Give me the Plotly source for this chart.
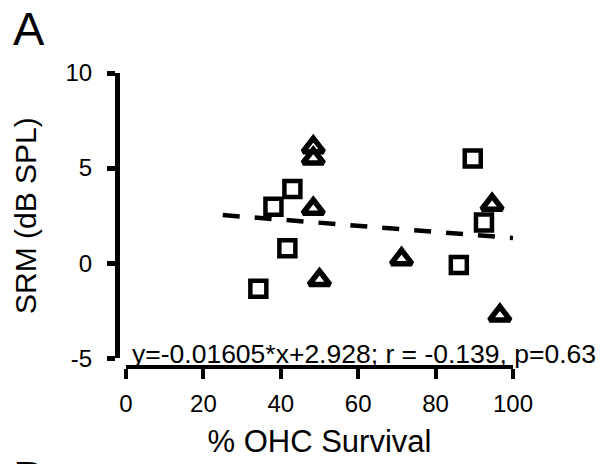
import plotly.graph_objects as go

# % OHC survival (x) and SRM in dB SPL (y), two subject groups
square_x = [34.2, 38.1, 41.7, 43.0, 86.0, 89.6, 92.5]
square_y = [-1.35, 2.97, 0.78, 3.9, -0.10, 5.5, 2.14]

triangle_x = [48.4, 48.4, 48.4, 50.0, 71.2, 94.6, 96.6]
triangle_y = [6.1, 5.5, 2.86, -0.89, 0.21, 3.07, -2.76]

# linear fit reported on the panel
slope = -0.01605
intercept = 2.928
r_value = -0.139
p_value = 0.63
fit_x = [25, 100]
fit_y = [slope * x + intercept for x in fit_x]

x_ticks = [0, 20, 40, 60, 80, 100]
y_ticks = [-5, 0, 5, 10]
y_tick_text = ["-5", "0", "5", "10"]

FONT = "Arial, Liberation Sans, sans-serif"

fig = go.Figure()

fig.add_trace(go.Scatter(
    x=fit_x, y=fit_y, mode="lines",
    line=dict(color="black", width=4.5, dash="17px,15px"),
    showlegend=False, hoverinfo="skip",
))
fig.add_trace(go.Scatter(
    x=square_x, y=square_y, mode="markers",
    marker=dict(symbol="square-open", size=16, color="black",
                line=dict(color="black", width=4.5)),
    showlegend=False,
))
fig.add_trace(go.Scatter(
    x=triangle_x, y=triangle_y, mode="markers",
    marker=dict(symbol="triangle-up-open", size=18, color="black",
                line=dict(color="black", width=5.5)),
    showlegend=False,
))

fig.add_annotation(
    x=1, y=-4.76, xref="x", yref="y",
    xanchor="left", yanchor="middle",
    text=f"y={slope}*x+{intercept}; r = {r_value}, p={p_value}",
    showarrow=False, font=dict(family=FONT, size=26.5, color="black"),
)
fig.add_annotation(
    x=-0.268, y=1.15, xref="paper", yref="paper",
    xanchor="left", yanchor="middle", text="A",
    showarrow=False, font=dict(family=FONT, size=47, color="black"),
)
fig.add_annotation(
    x=-0.268, y=-0.375, xref="paper", yref="paper",
    xanchor="left", yanchor="middle", text="B",
    showarrow=False, font=dict(family=FONT, size=47, color="black"),
)

fig.update_layout(
    width=602, height=464,
    margin=dict(l=117, r=89, t=73, b=92),
    paper_bgcolor="white", plot_bgcolor="white",
    font=dict(family=FONT, color="black"),
    xaxis=dict(
        domain=[0.0227, 1], range=[0, 100], anchor="free", position=0,
        tickvals=x_ticks, ticks="outside", ticklen=10, tickwidth=4,
        tickcolor="black", showline=True, linewidth=4, linecolor="black",
        showgrid=False, zeroline=False, tickfont=dict(size=24),
        ticklabelstandoff=4,
        title=dict(text="% OHC Survival", font=dict(size=31), standoff=14),
    ),
    yaxis=dict(
        domain=[0.030, 1], range=[-5, 10], anchor="free", position=0,
        tickvals=y_ticks, ticktext=y_tick_text, ticks="outside", ticklen=8,
        tickwidth=5, tickcolor="black", showline=True, linewidth=5,
        linecolor="black", showgrid=False, zeroline=False,
        tickfont=dict(size=24), ticklabelstandoff=10,
        title=dict(text="SRM (dB SPL)", font=dict(size=30), standoff=18),
    ),
)

fig.write_html("out.html")
